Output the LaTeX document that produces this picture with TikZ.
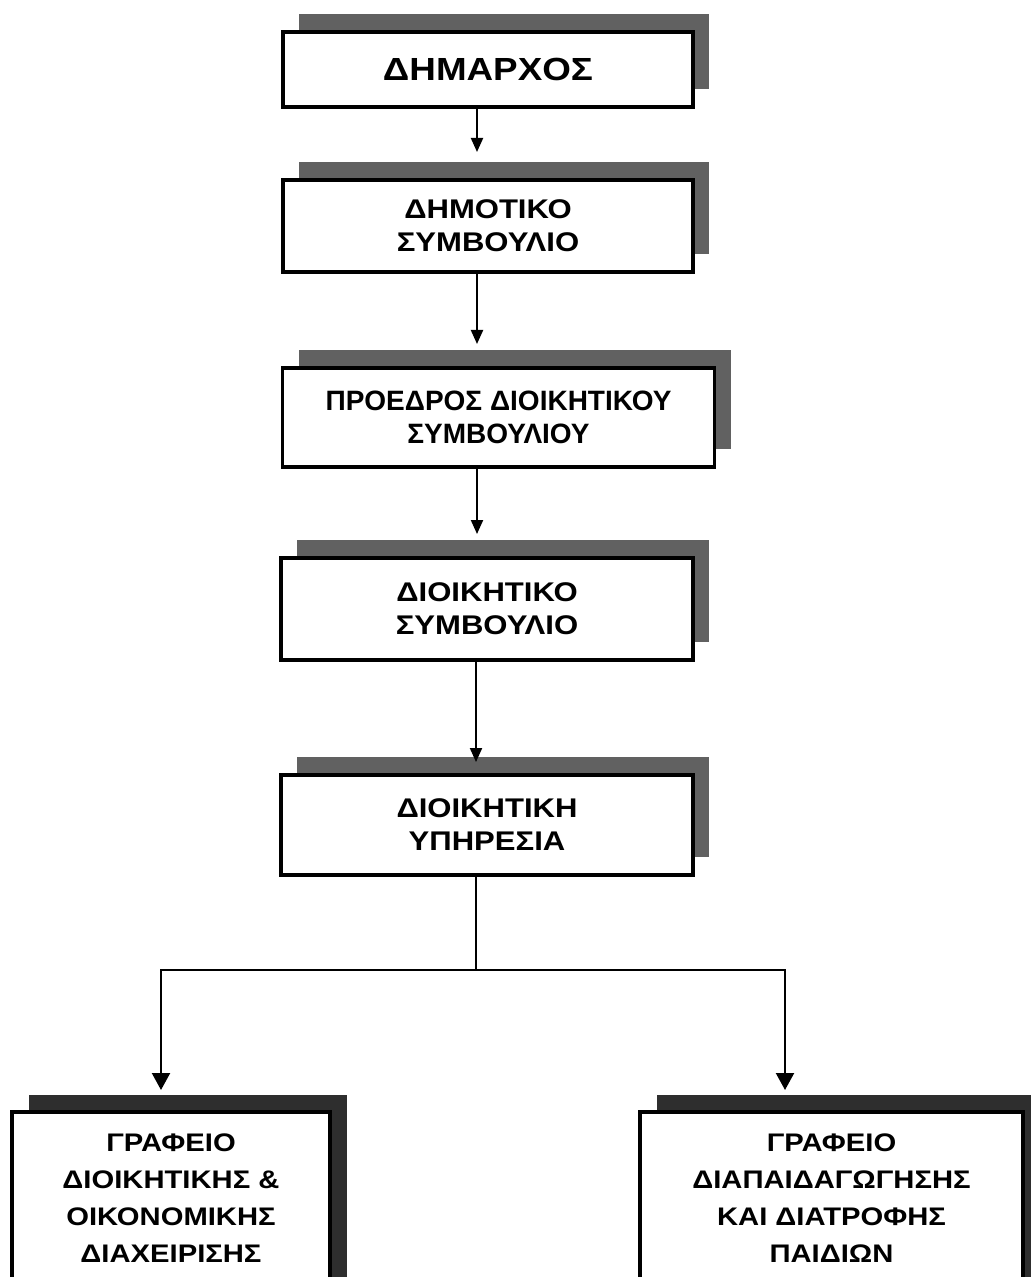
\documentclass[tikz,border=0pt]{standalone}
\usepackage{fontspec}
\newfontfamily\orgfont[FakeStretch=1.15]{Liberation Sans}
\newfontfamily\orgplain{Liberation Sans}
\usetikzlibrary{shadows,arrows.meta}

\begin{document}
\begin{tikzpicture}
  % one unit = one pixel of the scanned chart, y runs downwards
  \begin{scope}[x={(0.5pt,0pt)},y={(0pt,-0.5pt)},
    every node/.style={draw=black,line width=1.8pt,fill=white,align=center,inner sep=0pt},
    unit/.style={drop shadow={shadow xshift=8pt,shadow yshift=9pt,fill=black!62,opacity=1}},
    office/.style={line width=2.2pt,drop shadow={shadow xshift=8.5pt,shadow yshift=8.5pt,fill=black!82,opacity=1}},
    arr/.style={black,line width=1pt,-{Triangle[width=6pt,length=7pt]}},
    bigarr/.style={black,line width=1.1pt,-{Triangle[width=9pt,length=8.5pt]}}]
    \useasboundingbox (0,0) rectangle (1031,1277);

    \node[unit,minimum width=205pt,minimum height=37.5pt,
      font=\orgfont\bfseries\fontsize{16}{18}\selectfont] (M_D) at (488,69.5) {ΔΗΜΑΡΧΟΣ};
    \node[unit,minimum width=205pt,minimum height=46pt,
      font=\orgfont\bfseries\fontsize{13.5}{16.5}\selectfont] (C_D) at (488,226) {ΔΗΜΟΤΙΚΟ\\ΣΥΜΒΟΥΛΙΟ};
    \node[unit,minimum width=216pt,minimum height=49.5pt,
      font=\orgplain\bfseries\fontsize{14}{16.5}\selectfont] (P_D) at (498.5,417.5) {ΠΡΟΕΔΡΟΣ ΔΙΟΙΚΗΤΙΚΟΥ\\ΣΥΜΒΟΥΛΙΟΥ};
    \node[unit,minimum width=206pt,minimum height=51pt,
      font=\orgfont\bfseries\fontsize{13.5}{16.5}\selectfont] (C_A) at (487,609) {ΔΙΟΙΚΗΤΙΚΟ\\ΣΥΜΒΟΥΛΙΟ};
    \node[unit,minimum width=206pt,minimum height=50pt,
      font=\orgfont\bfseries\fontsize{13.5}{16.5}\selectfont] (S_A) at (487,825) {ΔΙΟΙΚΗΤΙΚΗ\\ΥΠΗΡΕΣΙΑ};

    % the two offices run off the bottom of the page (empty last line lifts the text)
    \node[office,minimum width=159pt,minimum height=105pt,
      font=\orgfont\bfseries\fontsize{12.7}{18.5}\selectfont] (O_L) at (171,1217)
      {ΓΡΑΦΕΙΟ\\ΔΙΟΙΚΗΤΙΚΗΣ \&\\ΟΙΚΟΝΟΜΙΚΗΣ\\ΔΙΑΧΕΙΡΙΣΗΣ\\~};
    \node[office,minimum width=191.5pt,minimum height=105pt,
      font=\orgfont\bfseries\fontsize{12.7}{18.5}\selectfont] (O_R) at (831.5,1217)
      {ΓΡΑΦΕΙΟ\\ΔΙΑΠΑΙΔΑΓΩΓΗΣΗΣ\\ΚΑΙ ΔΙΑΤΡΟΦΗΣ\\ΠΑΙΔΙΩΝ\\~};

    \coordinate (tip_1) at (477,152);
    \coordinate (tip_2) at (477,344);
    \coordinate (tip_3) at (477,534);
    \coordinate (tip_4) at (476,762);
    \coordinate (fork) at (476,970);
    \coordinate (tip_L) at (161,1090);
    \coordinate (tip_R) at (785,1090);

    \draw[arr] (M_D.south -| tip_1) -- (tip_1);
    \draw[arr] (C_D.south -| tip_2) -- (tip_2);
    \draw[arr] (P_D.south -| tip_3) -- (tip_3);
    \draw[arr] (C_A.south -| tip_4) -- (tip_4);
    \draw[black,line width=1.1pt] (S_A.south -| fork) -- (fork);
    \draw[bigarr] (fork) -| (tip_L);
    \draw[bigarr] (fork) -| (tip_R);
  \end{scope}
\end{tikzpicture}
\end{document}
